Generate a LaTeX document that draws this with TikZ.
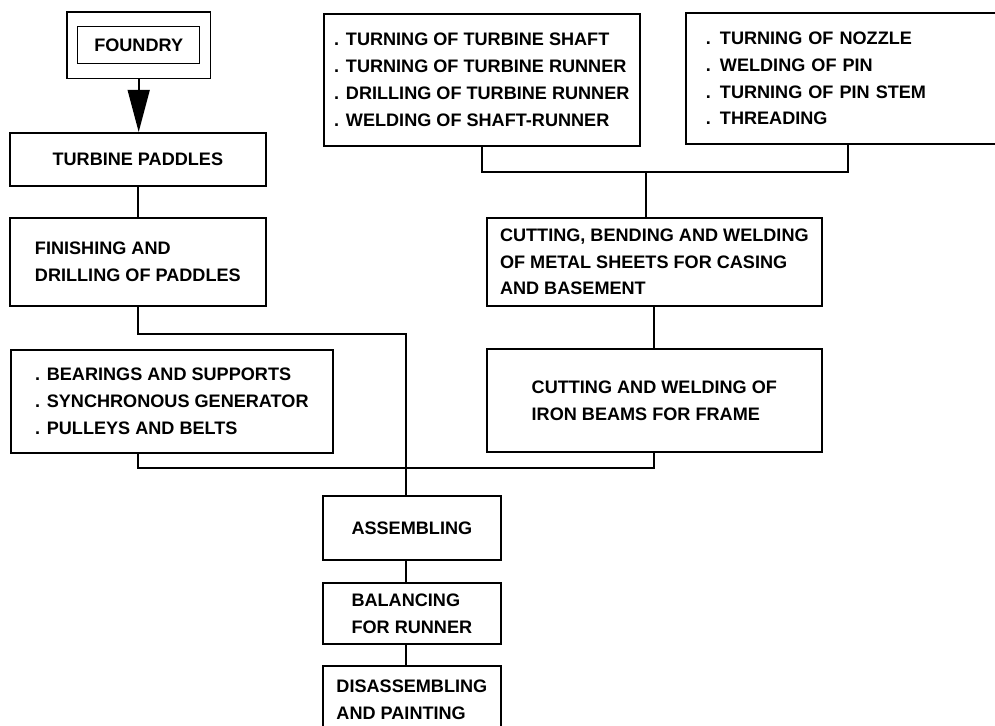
\documentclass[tikz,border=0pt]{standalone}
\usepackage{fontspec}
\setmainfont{Liberation Sans}
\usetikzlibrary{arrows.meta, fit}

\begin{document}
\begin{tikzpicture}[x=0.02cm, y=-0.02cm, line width=1pt,
    font=\fontsize{10.3}{15.3}\selectfont\bfseries,
    pbox/.style={draw, rectangle, anchor=north west, align=left, inner sep=0pt},
    framebox/.style={draw, rectangle, inner xsep=0.2cm, inner ysep=0.28cm}]

  \useasboundingbox (0,0) rectangle (995,726);
  \clip (0,0) rectangle (995,726);

  % left column
  \node[pbox, minimum width=2.44cm, minimum height=0.74cm, line width=0.8pt] (foundry) at (77,26) {FOUNDRY};
  \node[framebox, fit=(foundry)] (foundryframe) {};
  \node[pbox, minimum width=5.12cm, minimum height=1.06cm] (paddles) at (9,132) {TURBINE PADDLES};
  \node[pbox, minimum width=5.12cm, minimum height=1.76cm] (finishing) at (9,217) {FINISHING AND\\DRILLING OF PADDLES};
  \node[pbox, minimum width=6.44cm, minimum height=2.06cm] (bearings) at (10,349) {. BEARINGS AND SUPPORTS\\. SYNCHRONOUS GENERATOR\\. PULLEYS AND BELTS};

  % right column
  \node[pbox, minimum width=6.32cm, minimum height=2.64cm] (turning) at (323,13) {. TURNING OF TURBINE SHAFT\\. TURNING OF TURBINE RUNNER\\. DRILLING OF TURBINE RUNNER\\. WELDING OF SHAFT-RUNNER};
  \node[pbox, minimum width=6.48cm, minimum height=2.62cm, inner xsep=0.4cm, text width=5.68cm] (nozzle) at (685,12) {. TURNING OF NOZZLE\\. WELDING OF PIN\\. TURNING OF PIN STEM\\. THREADING};
  \node[pbox, minimum width=6.7cm, minimum height=1.76cm] (cutting) at (486,217) {CUTTING, BENDING AND WELDING\\OF METAL SHEETS FOR CASING\\AND BASEMENT};
  \node[pbox, minimum width=6.7cm, minimum height=2.06cm] (beams) at (486,348) {CUTTING AND WELDING OF\\IRON BEAMS FOR FRAME};

  % final steps
  \node[pbox, minimum width=3.56cm, minimum height=1.28cm] (assembling) at (322,495) {ASSEMBLING};
  \node[pbox, minimum width=3.56cm, minimum height=1.22cm] (balancing) at (322,582) {BALANCING\\FOR RUNNER};
  \node[pbox, minimum width=3.56cm, minimum height=1.34cm] (painting) at (322,665) {DISASSEMBLING\\AND PAINTING};

  \coordinate (bus) at (406,468);
  \coordinate (topbus) at (646,172);

  \draw[-{Triangle[length=24pt, width=12.5pt]}] (foundryframe.south) -- (foundryframe.south |- paddles.north);
  \draw (paddles.south) -- (finishing.north);
  \draw (finishing.south) -- ++(0,27) -| (bus);
  \draw (bearings.south -| finishing.south) |- (bus);
  \draw (beams.south) |- (bus);
  \draw (bus) -- (bus |- assembling.north);
  \draw (bus |- assembling.south) -- (bus |- balancing.north);
  \draw (bus |- balancing.south) -- (bus |- painting.north);

  \draw (turning.south) |- (topbus) -| (nozzle.south);
  \draw (topbus) -- (topbus |- cutting.north);
  \draw (cutting.south) -- (beams.north);
\end{tikzpicture}
\end{document}
